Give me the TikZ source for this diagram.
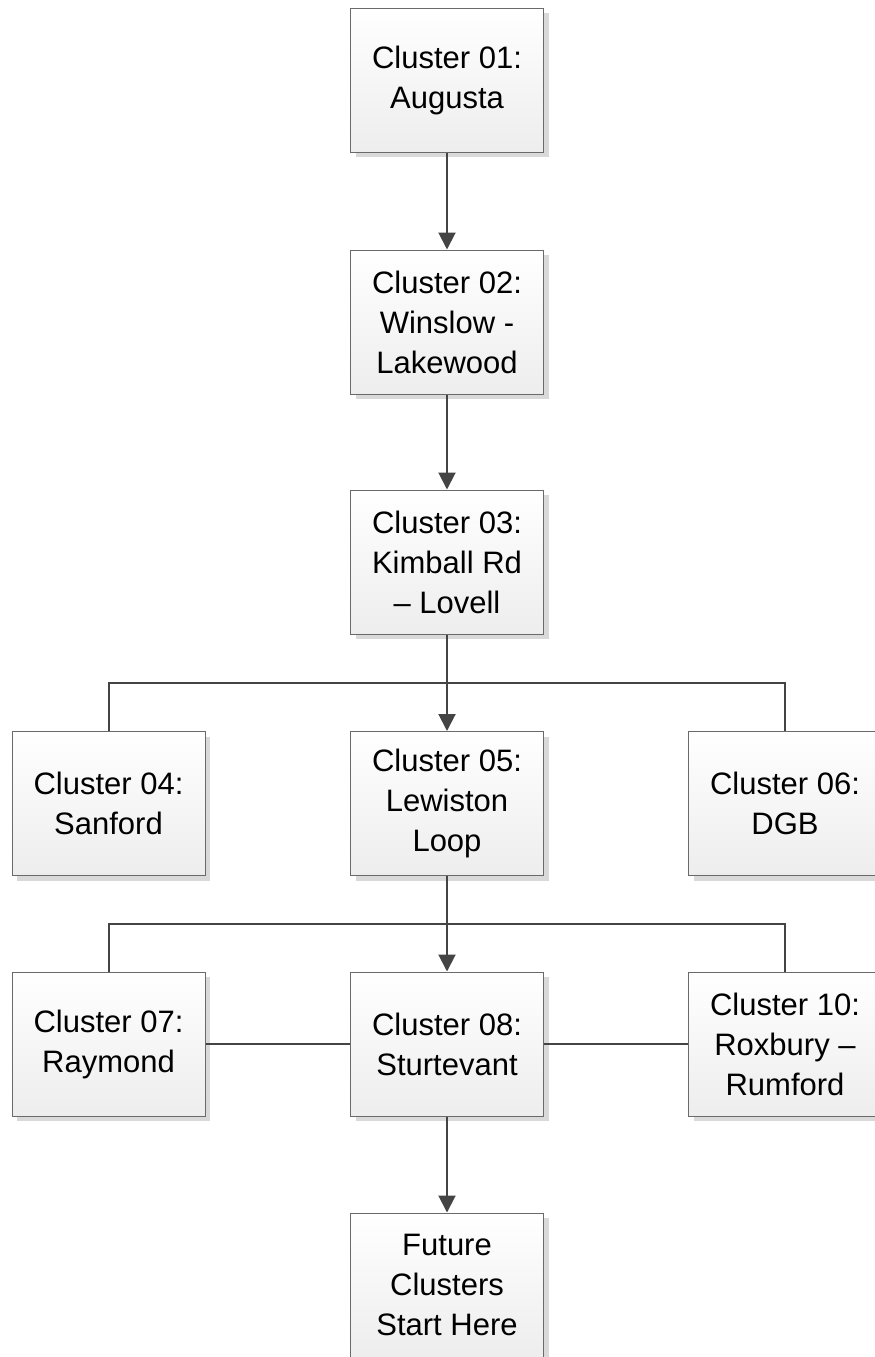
\documentclass[tikz,border=0pt]{standalone}
\usepackage{fontspec}
\setmainfont{Liberation Sans}
\usetikzlibrary{arrows.meta,shadows}
\definecolor{linec}{HTML}{444444}
\definecolor{boxline}{HTML}{6A6A6A}
\definecolor{shadowc}{HTML}{D9D9D9}
\tikzset{
  box/.style={draw=boxline, line width=1pt, minimum width=193pt, minimum height=144pt,
    top color=white, bottom color=black!7, align=center, inner sep=0pt,
    font=\fontsize{31}{40}\selectfont,
    drop shadow={shadow xshift=5pt, shadow yshift=-5pt, fill=shadowc, opacity=1}},
  conn/.style={draw=linec, line width=2pt},
  arr/.style={conn, -{Triangle[length=17pt,width=17pt]}}
}
\begin{document}
\begin{tikzpicture}[x=1pt,y=-1pt]
\useasboundingbox (0,0) rectangle (875,1357);
\clip (0,0) rectangle (875,1357);
\node[box] (b1) at (447,80) {Cluster 01:\\Augusta};
\node[box] (b2) at (447,322) {Cluster 02:\\Winslow -\\Lakewood};
\node[box] (b3) at (447,562) {Cluster 03:\\Kimball Rd\\– Lovell};
\node[box] (b4) at (108.5,803.5) {Cluster 04:\\Sanford};
\node[box] (b5) at (447,803.5) {Cluster 05:\\Lewiston\\Loop};
\node[box] (b6) at (785,803.5) {Cluster 06:\\DGB};
\node[box] (b7) at (108.5,1044) {Cluster 07:\\Raymond};
\node[box] (b8) at (447,1044) {Cluster 08:\\Sturtevant};
\node[box] (b10) at (785,1044) {Cluster 10:\\Roxbury –\\Rumford};
\node[box] (b11) at (447,1285) {Future\\Clusters\\Start Here};
\coordinate (j1) at (447,683);
\coordinate (j2) at (447,924);
\draw[arr] (b1) -- (b2);
\draw[arr] (b2) -- (b3);
\draw[arr] (b3) -- (b5);
\draw[conn] (b4.north) |- (j1) -| (b6.north);
\draw[arr] (b5) -- (b8);
\draw[conn] (b7.north) |- (j2) -| (b10.north);
\draw[conn] (b7) -- (b8);
\draw[conn] (b8) -- (b10);
\draw[arr] (b8) -- (b11);
\end{tikzpicture}
\end{document}
